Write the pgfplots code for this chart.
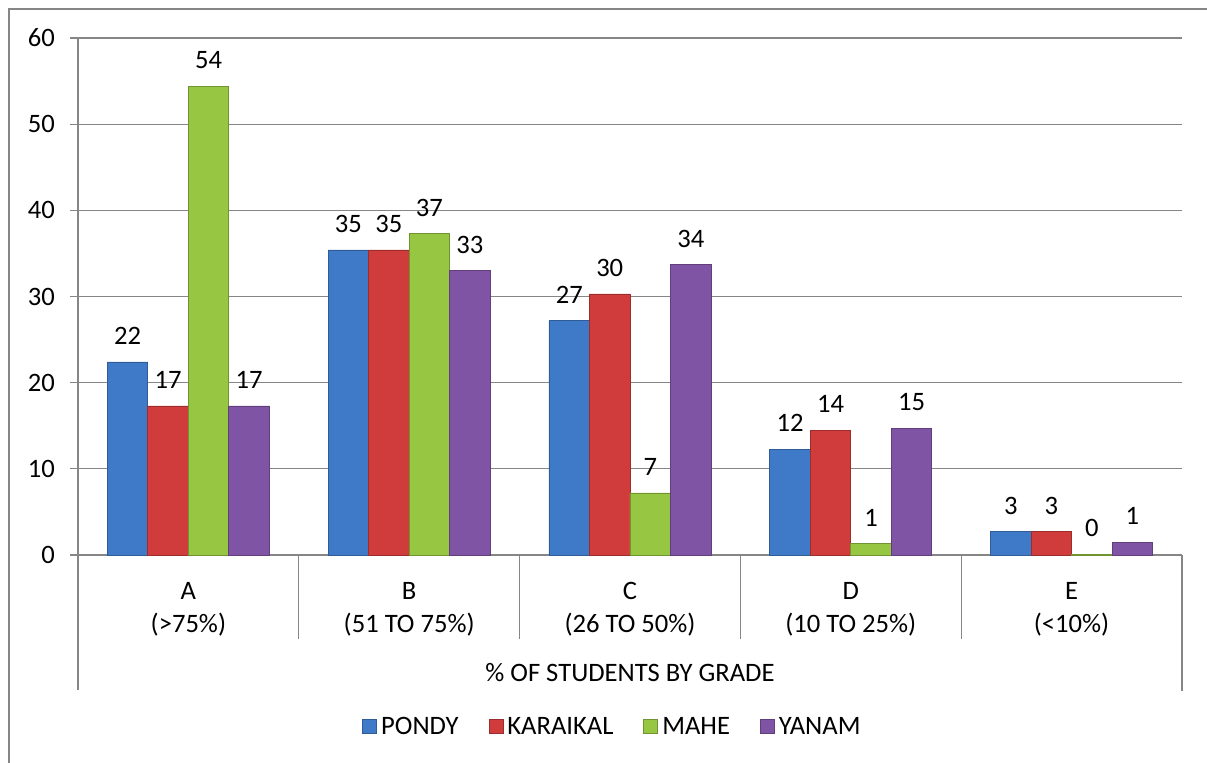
\documentclass[border=0pt]{standalone}
\usepackage{pgfplots}
\pgfplotsset{compat=1.18}
\usepackage{pgfplotstable}
\usepackage{fontspec}
\setmainfont{Carlito}
\definecolor{cblue}{RGB}{62,122,200}
\definecolor{cred}{RGB}{208,60,60}
\definecolor{cgreen}{RGB}{150,198,66}
\definecolor{cpurple}{RGB}{128,84,164}
\definecolor{gridg}{RGB}{134,134,134}
\pgfplotstableread{
x y lab
0 22.4 22
1 35.4 35
2 27.2 27
3 12.3 12
4 2.7 3
}\pondy
\pgfplotstableread{
x y lab
0 17.3 17
1 35.4 35
2 30.3 30
3 14.5 14
4 2.7 3
}\karaikal
\pgfplotstableread{
x y lab
0 54.4 54
1 37.3 37
2 7.2 7
3 1.3 1
4 0.05 0
}\mahe
\pgfplotstableread{
x y lab
0 17.3 17
1 33.0 33
2 33.7 34
3 14.7 15
4 1.5 1
}\yanam
\begin{document}
\begin{tikzpicture}
\useasboundingbox (-39pt,-103.5pt) rectangle (564.5pt,277.5pt);
\draw[gridg, line width=0.6pt] (-34.5pt,-110pt) -- (-34.5pt,273pt) -- (570pt,273pt);
\begin{axis}[
  at={(0pt,0pt)}, anchor=south west,
  scale only axis, width=552pt, height=258.5pt,
  ybar=0pt, bar width=20.25pt,
  xmin=-0.5, xmax=4.5, ymin=0, ymax=60,
  ytick={0,10,...,60},
  xtick={0,1,2,3,4},
  xticklabels={A\\(>75\%),B\\(51 TO 75\%),C\\(26 TO 50\%),D\\(10 TO 25\%),E\\(<10\%)},
  xticklabel style={align=center, font=\fontsize{13.3}{16.7}\selectfont, yshift=-6pt},
  yticklabel style={font=\fontsize{13.3}{15}\selectfont, xshift=-4pt},
  /pgf/number format/assume math mode=true,
  axis x line=bottom, axis y line=left,
  axis line style={gridg, line width=0.6pt, -},
  ymajorgrids, grid style={gridg, line width=0.6pt},
  tick align=outside, major tick length=4pt,
  ytick style={gridg, line width=0.6pt},
  xtick style={draw=none},
  clip=false,
  nodes near coords,
  point meta=explicit symbolic,
  every node near coord/.append style={font=\fontsize{13.3}{15}\selectfont, inner sep=0pt, yshift=8.5pt, anchor=south, text=black},
  legend style={at={(0.485,-0.333)}, anchor=center, draw=none, legend columns=4,
    font=\fontsize{13.3}{15}\selectfont,
    /tikz/every even column/.append style={column sep=13pt}},
  legend image code/.code={\fill[#1] (0pt,-3pt) rectangle (7pt,4pt);},
]
\addplot[fill=cblue, draw=cblue!75!black, line width=0.4pt] table[x=x,y=y,meta=lab]{\pondy};
\addplot[fill=cred, draw=cred!75!black, line width=0.4pt] table[x=x,y=y,meta=lab]{\karaikal};
\addplot[fill=cgreen, draw=cgreen!75!black, line width=0.4pt] table[x=x,y=y,meta=lab]{\mahe};
\addplot[fill=cpurple, draw=cpurple!75!black, line width=0.4pt] table[x=x,y=y,meta=lab]{\yanam};
\legend{PONDY,KARAIKAL,MAHE,YANAM}
\draw[gridg, line width=0.6pt] (axis cs:-0.5,0) -- ++(0pt,-67.5pt);
\draw[gridg, line width=0.6pt] (axis cs:4.5,0) -- ++(0pt,-68pt);
\draw[gridg, line width=0.6pt] (axis cs:0.5,0) -- ++(0pt,-42pt);
\draw[gridg, line width=0.6pt] (axis cs:1.5,0) -- ++(0pt,-42pt);
\draw[gridg, line width=0.6pt] (axis cs:2.5,0) -- ++(0pt,-42pt);
\draw[gridg, line width=0.6pt] (axis cs:3.5,0) -- ++(0pt,-42pt);
\node[font=\fontsize{13.3}{15}\selectfont] at ([yshift=-59pt]axis cs:2,0) {\% OF STUDENTS BY GRADE};
\end{axis}
\end{tikzpicture}
\end{document}
